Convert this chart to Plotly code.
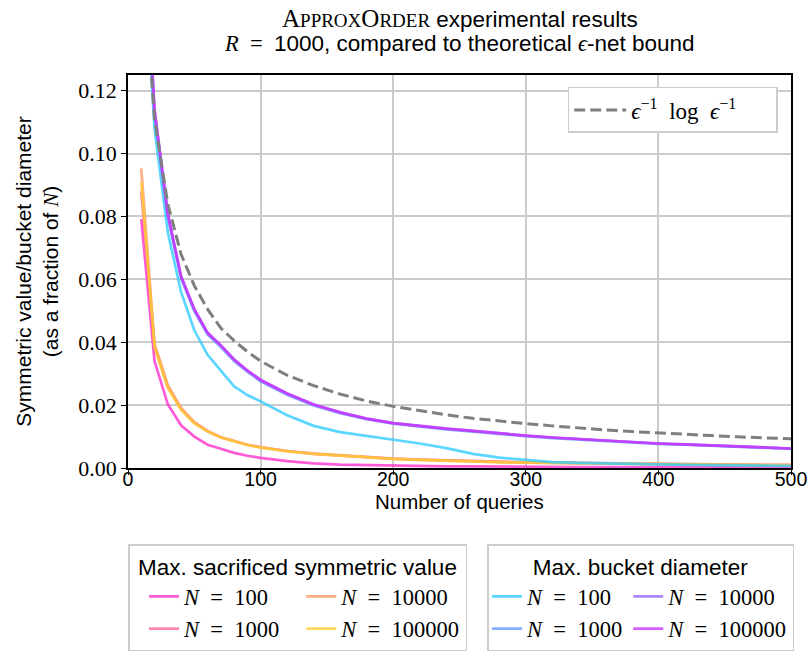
import plotly.graph_objects as go

# ---------------- data ----------------
queries = [10, 20, 30, 40, 50, 60, 70, 80, 90, 100,
           120, 140, 160, 180, 200, 220, 240, 260, 280, 300,
           320, 340, 360, 380, 400, 420, 440, 460, 480, 500]

bound = [0.170, 0.111, 0.084, 0.068, 0.058, 0.0505, 0.0445, 0.0405, 0.037, 0.034,
         0.0295, 0.0262, 0.0235, 0.0213, 0.0196, 0.0182, 0.0169, 0.0158, 0.0149, 0.0141,
         0.0134, 0.0127, 0.0121, 0.0116, 0.0111, 0.0107, 0.0103, 0.0099, 0.0096, 0.0093]

# Max. sacrificed symmetric value
sac_100 = [0.0792, 0.0340, 0.0203, 0.0136, 0.0100, 0.0074, 0.0061, 0.0048, 0.0039, 0.0032,
           0.0022, 0.0015, 0.0011, 0.0009, 0.0007, 0.0006, 0.0005, 0.0005, 0.0004, 0.0004,
           0.0004, 0.0003, 0.0003, 0.0003, 0.0003, 0.0003, 0.0002, 0.0002, 0.0002, 0.0002]
sac_1000 = [0.0880, 0.0388, 0.0258, 0.0188, 0.0144, 0.0117, 0.0098, 0.0085, 0.0074, 0.0066,
            0.0054, 0.0046, 0.0040, 0.0035, 0.0030, 0.0027, 0.0024, 0.0022, 0.0020, 0.0018,
            0.0017, 0.0016, 0.0014, 0.0013, 0.0013, 0.0012, 0.0011, 0.0011, 0.0010, 0.0010]
sac_10000 = [0.0953, 0.0395, 0.0264, 0.0191, 0.0146, 0.0118, 0.0098, 0.0085, 0.0074, 0.0066,
             0.0054, 0.0045, 0.0039, 0.0034, 0.0029, 0.0026, 0.0023, 0.0021, 0.0019, 0.0017,
             0.0016, 0.0015, 0.0013, 0.0012, 0.0012, 0.0011, 0.0010, 0.0010, 0.0009, 0.0009]
sac_100000 = [0.0909, 0.0385, 0.0255, 0.0185, 0.0142, 0.0116, 0.0097, 0.0084, 0.0073, 0.0065,
              0.0053, 0.0045, 0.0039, 0.0034, 0.0029, 0.0026, 0.0023, 0.0021, 0.0019, 0.0017,
              0.0016, 0.0015, 0.0013, 0.0012, 0.0012, 0.0011, 0.0010, 0.0010, 0.0009, 0.0009]

# Max. bucket diameter
buck_100 = [0.180, 0.108, 0.075, 0.056, 0.0438, 0.036, 0.031, 0.026, 0.0232, 0.0212,
            0.0168, 0.0134, 0.0114, 0.0102, 0.0090, 0.0078, 0.0063, 0.0045, 0.0033, 0.0025,
            0.0019, 0.0016, 0.0014, 0.0012, 0.0011, 0.0010, 0.0009, 0.0008, 0.0008, 0.0007]
buck_1000 = [0.186, 0.1125, 0.0800, 0.0603, 0.0499, 0.0425, 0.0385, 0.0340, 0.0306, 0.0276,
             0.0233, 0.0199, 0.0174, 0.0155, 0.0141, 0.0131, 0.0123, 0.0116, 0.0108, 0.0101,
             0.0095, 0.0090, 0.0085, 0.0081, 0.0077, 0.0074, 0.0071, 0.0067, 0.0064, 0.0061]
buck_10000 = [0.189, 0.1138, 0.0808, 0.0610, 0.0505, 0.0430, 0.0390, 0.0345, 0.0310, 0.0280,
              0.0237, 0.0202, 0.0177, 0.0157, 0.0143, 0.0133, 0.0125, 0.0118, 0.0110, 0.0103,
              0.0097, 0.0092, 0.0086, 0.0082, 0.0078, 0.0075, 0.0072, 0.0068, 0.0065, 0.0062]
buck_100000 = [0.190, 0.1140, 0.0810, 0.0610, 0.0505, 0.0430, 0.0390, 0.0345, 0.0310, 0.0280,
               0.0237, 0.0202, 0.0177, 0.0157, 0.0143, 0.0133, 0.0125, 0.0118, 0.0110, 0.0103,
               0.0097, 0.0092, 0.0086, 0.0082, 0.0078, 0.0075, 0.0072, 0.0068, 0.0065, 0.0062]

n_labels = ["100", "1000", "10000", "100000"]
x_ticks = [0, 100, 200, 300, 400, 500]
y_ticks = [0.00, 0.02, 0.04, 0.06, 0.08, 0.10, 0.12]

# ---------------- style ----------------
SANS = "Liberation Sans"
SERIF = "Liberation Serif"
FS = 21
sac_colors = ["#ff33cc", "#ff6699", "#ff9966", "#ffcc33"]
buck_colors = ["#33ccff", "#6699ff", "#9966ff", "#cc33ff"]
LW = 2.7
SP = "\u2002"
EM = "\u2003"

fig = go.Figure()

sac_series = [sac_100, sac_1000, sac_10000, sac_100000]
buck_series = [buck_100, buck_1000, buck_10000, buck_100000]
# legend layout: column 1 = N=100, N=1000 ; column 2 = N=10000, N=100000
groups = ["a", "a", "b", "b"]

for i, (vals, col) in enumerate(zip(sac_series, sac_colors)):
    fig.add_trace(go.Scatter(
        x=queries, y=vals, mode="lines",
        line=dict(color=col, width=LW), opacity=0.8,
        name="<i>N</i>" + SP + "=" + SP + n_labels[i],
        legend="legend", legendgroup="s" + groups[i],
    ))

for i, (vals, col) in enumerate(zip(buck_series, buck_colors)):
    fig.add_trace(go.Scatter(
        x=queries, y=vals, mode="lines",
        line=dict(color=col, width=LW), opacity=0.8,
        name="<i>N</i>" + SP + "=" + SP + n_labels[i],
        legend="legend2", legendgroup="b" + groups[i],
    ))

fig.add_trace(go.Scatter(
    x=queries, y=bound, mode="lines",
    line=dict(color="#7f7f7f", width=3, dash="11px,5px"),
    name="<i>ϵ</i><sup>−1</sup>" + SP + "log" + SP + "<i>ϵ</i><sup>−1</sup>" + EM + SP,
    legend="legend3",
))

legend_common = dict(
    orientation="h", traceorder="grouped",
    bgcolor="white", bordercolor="#cccccc", borderwidth=1.5,
    font=dict(family=SERIF, size=22.5, color="black"),
    xanchor="left", yanchor="top",
    itemwidth=30, tracegroupgap=0,
)

plot_top = 75.0
plot_bottom = 468.5
plot_h = plot_bottom - plot_top


def py(px):
    """pixel row (from the top of the page) -> paper y"""
    return (plot_bottom - px) / plot_h


fig.update_layout(
    width=809, height=651,
    margin=dict(l=128, r=18, t=75, b=651 - plot_bottom, autoexpand=False),
    paper_bgcolor="white", plot_bgcolor="white",
    font=dict(family=SANS, size=FS, color="black"),
    showlegend=True,
    legend=dict(**legend_common, x=0.0, y=py(545), indentation=16,
                title=dict(text="Max. sacrificed symmetric value", side="top center",
                           font=dict(family=SANS, size=22.5))),
    legend2=dict(**legend_common, x=0.5415, y=py(545),
                 title=dict(text="Max. bucket diameter", side="top center",
                            font=dict(family=SANS, size=22.5))),
    legend3=dict(orientation="v", bgcolor="white", bordercolor="#cccccc", borderwidth=1.5,
                 font=dict(family=SERIF, size=23, color="black"),
                 x=0.98, xanchor="right", y=py(87), yanchor="top", itemwidth=52),
    xaxis=dict(
        range=[0, 500], tickvals=x_ticks, ticktext=[str(v) for v in x_ticks],
        showgrid=True, gridcolor="#cbcbcb", gridwidth=1.5,
        showline=True, linecolor="black", linewidth=1.6, mirror=True,
        ticks="outside", ticklen=5, tickwidth=1.4, tickcolor="black",
        tickfont=dict(family=SANS, size=19.5), zeroline=False,
        ticklabelstandoff=-12, ticklabeloverflow="allow",
    ),
    yaxis=dict(
        range=[0, 0.125], tickvals=y_ticks, ticktext=["%.2f" % v for v in y_ticks],
        showgrid=True, gridcolor="#cbcbcb", gridwidth=1.5,
        showline=True, linecolor="black", linewidth=1.6, mirror=True,
        ticks="outside", ticklen=5, tickwidth=1.4, tickcolor="black",
        tickfont=dict(family=SERIF, size=22), zeroline=False,
        title=dict(text="Symmetric value/bucket diameter<br>(as a fraction of "
                        "<span style='font-family:" + SERIF + "'><i>N</i></span>)",
                   font=dict(family=SANS, size=FS), standoff=14),
    ),
    annotations=[
        dict(text="<span style='font-family:" + SERIF + "'><span style='font-size:25px'>A</span>"
                  "<span style='font-size:19px'>PPROX</span>"
                  "<span style='font-size:25px'>O</span><span style='font-size:19px'>RDER</span></span>"
                  " experimental results",
             x=0.5, xref="paper", xanchor="center", y=py(18), yref="paper", yanchor="middle",
             showarrow=False, font=dict(family=SANS, size=22.5)),
        dict(text="<span style='font-family:" + SERIF + "'><i>R</i>" + SP + "=" + SP + "</span>1000, "
                  "compared to theoretical <span style='font-family:" + SERIF + "'><i>ϵ</i></span>-net bound",
             x=0.5, xref="paper", xanchor="center", y=py(43), yref="paper", yanchor="middle",
             showarrow=False, font=dict(family=SANS, size=22.5)),
        dict(text="Number of queries",
             x=0.5, xref="paper", xanchor="center", y=py(502), yref="paper", yanchor="middle",
             showarrow=False, font=dict(family=SANS, size=20.5)),
    ],
)

fig.write_html("out.html", config={"displayModeBar": False},
               post_script="document.body.style.margin='0px';")
